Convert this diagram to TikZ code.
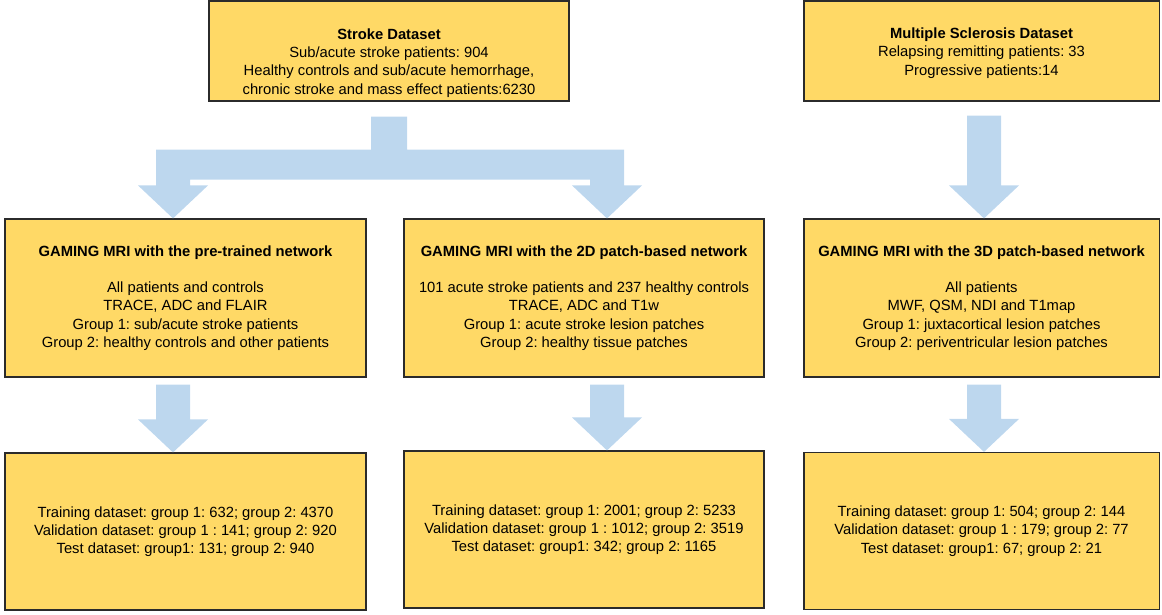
\documentclass[tikz,border=0pt]{standalone}
\usepackage{fontspec}
\setmainfont{Liberation Sans}
\frenchspacing
\usetikzlibrary{calc}

\definecolor{boxgold}{HTML}{FFD966}
\definecolor{flowblue}{HTML}{BDD7EE}
\definecolor{boxline}{HTML}{2B2B2B}

% straight block arrow: #1 = top of the stem, #2 = tip
\newcommand{\flowarrow}[2]{%
  \fill[flow] ($(#1)+(-17,0)$) -- ($(#1)+(17,0)$) -- ($(#2)+(17,-33)$) -- ($(#2)+(35,-33)$)
    -- (#2) -- ($(#2)+(-35,-33)$) -- ($(#2)+(-17,-33)$) -- cycle;}

\begin{document}
\begin{tikzpicture}[x=0.025cm, y=-0.025cm,
    every node/.style={font=\fontsize{10.5}{13}\selectfont},
    databox/.style={draw=boxline, line width=0.8pt, fill=boxgold, align=center, inner sep=0pt},
    flow/.style={fill=flowblue}]
    \useasboundingbox (0,0) rectangle (1162,614);

    % Datasets
    \node[databox, minimum width=9cm, minimum height=2.5cm] (stroke) at (389,51)
        {\rule{0pt}{24.5pt}\textbf{Stroke Dataset}\\Sub/acute stroke patients: 904\\Healthy controls and sub/acute hemorrhage,\\chronic stroke and mass effect patients:6230};
    \node[databox, minimum width=8.875cm, minimum height=2.5cm] (ms) at (981.5,51)
        {\rule{0pt}{10.5pt}\textbf{Multiple Sclerosis Dataset}\\Relapsing remitting patients: 33\\Progressive patients:14};

    % Networks
    \node[databox, minimum width=9.025cm, minimum height=3.95cm] (net1) at (185.5,298)
        {\textbf{GAMING MRI with the pre-trained network}\\[13pt]All patients and controls\\TRACE, ADC and FLAIR\\Group 1: sub/acute stroke patients\\Group 2: healthy controls and other patients};
    \node[databox, minimum width=9cm, minimum height=3.95cm] (net2) at (584,298)
        {\textbf{GAMING MRI with the 2D patch-based network}\\[13pt]101 acute stroke patients and 237 healthy controls\\TRACE, ADC and T1w\\Group 1: acute stroke lesion patches\\Group 2: healthy tissue patches};
    \node[databox, minimum width=8.875cm, minimum height=3.95cm] (net3) at (981.5,298)
        {\textbf{GAMING MRI with the 3D patch-based network}\\[13pt]All patients\\MWF, QSM, NDI and T1map\\Group 1: juxtacortical lesion patches\\Group 2: periventricular lesion patches};

    % Splits
    \node[databox, minimum width=9.025cm, minimum height=3.925cm] (res1) at (185.5,531.5)
        {Training dataset: group 1: 632; group 2: 4370\\Validation dataset: group 1 : 141; group 2: 920\\Test dataset: group1: 131; group 2: 940};
    \node[databox, minimum width=9cm, minimum height=3.925cm] (res2) at (584,529.5)
        {Training dataset: group 1: 2001; group 2: 5233\\Validation dataset: group 1 : 1012; group 2: 3519\\Test dataset: group1: 342; group 2: 1165};
    \node[databox, minimum width=8.875cm, minimum height=3.925cm] (res3) at (981.5,531)
        {Training dataset: group 1: 504; group 2: 144\\Validation dataset: group 1 : 179; group 2: 77\\Test dataset: group1: 67; group 2: 21};

    % Arrow columns
    \coordinate (colA) at (173,0);
    \coordinate (colB) at (607,0);
    \coordinate (colC) at (984,0);

    % Stroke dataset splits into two networks
    \fill[flow] ($(stroke.south)+(-18,15)$) -- ($(stroke.south)+(18,15)$) -- ($(stroke.south)+(18,48)$)
        -- ($(colB |- stroke.south)+(17,48)$) -- ($(colB |- net2.north)+(17,-33)$) -- ($(colB |- net2.north)+(35,-33)$)
        -- (colB |- net2.north) -- ($(colB |- net2.north)+(-35,-33)$) -- ($(colB |- net2.north)+(-17,-33)$)
        -- ($(colB |- stroke.south)+(-17,78)$) -- ($(colA |- stroke.south)+(17,78)$)
        -- ($(colA |- net1.north)+(17,-33)$) -- ($(colA |- net1.north)+(35,-33)$) -- (colA |- net1.north)
        -- ($(colA |- net1.north)+(-35,-33)$) -- ($(colA |- net1.north)+(-17,-33)$)
        -- ($(colA |- stroke.south)+(-17,48)$) -- ($(stroke.south)+(-18,48)$) -- cycle;

    % MS dataset to the 3D network
    \coordinate (msTop) at ($(colC |- ms.south)+(0,14)$);
    \flowarrow{msTop}{colC |- net3.north}

    % Networks to their splits
    \coordinate (aTop) at ($(colA |- net1.south)+(0,7)$);
    \coordinate (bTop) at ($(colB |- net2.south)+(0,7)$);
    \coordinate (cTop) at ($(colC |- net3.south)+(0,7)$);
    \flowarrow{aTop}{colA |- res1.north}
    \flowarrow{bTop}{colB |- res2.north}
    \flowarrow{cTop}{colC |- res3.north}
\end{tikzpicture}
\end{document}
